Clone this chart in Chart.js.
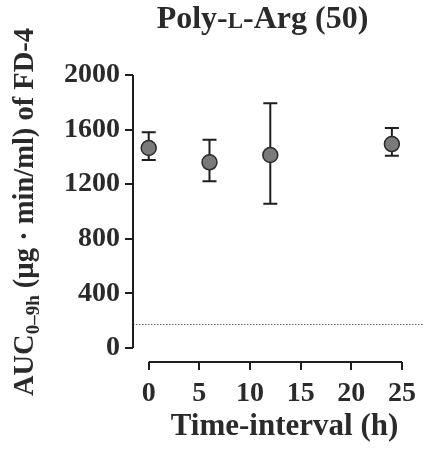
<!DOCTYPE html>
<html>
<head>
<meta charset="utf-8">
<script src="https://cdn.jsdelivr.net/npm/chart.js@4.4.1/dist/chart.umd.min.js"></script>
<style>
  body { margin: 0; background: #fff; }
  #caja { width: 423px; height: 455px; position: relative; }
</style>
</head>
<body>
<div id="caja"><canvas id="grafica"></canvas></div>
<script>
// datos
var horas = [0, 6, 12, 24];
var auc = [1465, 1360, 1414, 1494];
var errorArriba = [1580, 1526, 1793, 1611];
var errorAbajo = [1377, 1221, 1056, 1409];
var ticksX = [0, 5, 10, 15, 20, 25];
var ticksY = [0, 400, 800, 1200, 1600, 2000];
var lineaBase = 175;

var colorTexto = "#2a2a2a";
var fuente = "'Liberation Serif', 'Times New Roman', serif";

var puntos = horas.map(function(h, i) { return { x: h, y: auc[i] }; });

// barras de error + linea punteada
var plugErrores = {
    id: 'errores',
    beforeDatasetsDraw: function(chart) {
        var ctx = chart.ctx, sx = chart.scales.x, sy = chart.scales.y;
        ctx.save();
        // linea punteada
        var yb = Math.round(sy.getPixelForValue(lineaBase)) + 0.5;
        ctx.strokeStyle = "#666";
        ctx.lineWidth = 1;
        ctx.setLineDash([1.5, 1.5]);
        ctx.beginPath();
        ctx.moveTo(chart.chartArea.left, yb);
        ctx.lineTo(chart.width, yb);
        ctx.stroke();
        ctx.setLineDash([]);

        ctx.strokeStyle = "#1e1e1e";
        ctx.lineWidth = 2;
        for (var i = 0; i < horas.length; i++) {
            var px = sx.getPixelForValue(horas[i]);
            var top = sy.getPixelForValue(errorArriba[i]);
            var bot = sy.getPixelForValue(errorAbajo[i]);
            ctx.beginPath();
            ctx.moveTo(px, top); ctx.lineTo(px, bot);
            ctx.moveTo(px - 7, top); ctx.lineTo(px + 7, top);
            ctx.moveTo(px - 7, bot); ctx.lineTo(px + 7, bot);
            ctx.stroke();
        }
        ctx.restore();
    },
    afterDraw: function(chart) {
        var ctx = chart.ctx, sx = chart.scales.x, sy = chart.scales.y, ca = chart.chartArea;
        ctx.save();
        // ejes separados (estilo prism)
        ctx.strokeStyle = "#1e1e1e";
        ctx.lineWidth = 2;
        ctx.beginPath();
        ctx.moveTo(ca.left, sy.getPixelForValue(ticksY[0]));
        ctx.lineTo(ca.left, sy.getPixelForValue(ticksY[ticksY.length - 1]));
        ctx.moveTo(sx.getPixelForValue(ticksX[0]), ca.bottom);
        ctx.lineTo(sx.getPixelForValue(ticksX[ticksX.length - 1]), ca.bottom);
        ctx.stroke();

        ctx.fillStyle = colorTexto;
        ctx.textBaseline = "alphabetic";

        // titulo con versalita
        var f1 = "bold 32px " + fuente, f2 = "bold 23px " + fuente;
        var partes = [["Poly-", f1], ["L", f2], ["-Arg (50)", f1]];
        var ancho = 0;
        partes.forEach(function(p) { ctx.font = p[1]; ancho += ctx.measureText(p[0]).width; });
        var x0 = 262.5 - ancho / 2;
        partes.forEach(function(p) {
            ctx.font = p[1];
            ctx.fillText(p[0], x0, 28);
            x0 += ctx.measureText(p[0]).width;
        });

        // titulo eje x
        ctx.font = "bold 31px " + fuente;
        ctx.textAlign = "center";
        ctx.fillText("Time-interval (h)", 284.5, 435);
        ctx.textAlign = "left";

        // titulo eje y con subindice
        var tramos = [["AUC", "bold 28.5px " + fuente, 0], ["0\u20139h", "bold 19px " + fuente, 6], [" (\u00b5g \u00b7 min/ml) of FD-4", "bold 28.5px " + fuente, 0]];
        var total = 0;
        tramos.forEach(function(t) { ctx.font = t[1]; total += ctx.measureText(t[0]).width; });
        ctx.translate(33, 212);
        ctx.rotate(-Math.PI / 2);
        var pos = -total / 2;
        tramos.forEach(function(t) {
            ctx.font = t[1];
            ctx.fillText(t[0], pos, t[2]);
            pos += ctx.measureText(t[0]).width;
        });
        ctx.restore();
    }
};

var grafica = new Chart(document.getElementById("grafica"), {
    type: 'scatter',
    data: {
        datasets: [{
            data: puntos,
            pointRadius: 7.5,
            pointBackgroundColor: "#7a7a7a",
            pointBorderColor: "#2a2a2a",
            pointBorderWidth: 1.5,
            showLine: false
        }]
    },
    options: {
        responsive: true,
        maintainAspectRatio: false,
        animation: false,
        layout: { padding: { top: 75, right: 16, left: 0, bottom: 0 } },
        plugins: { legend: { display: false }, tooltip: { enabled: false }, title: { display: false } },
        scales: {
            x: {
                type: 'linear',
                min: -1.55,
                max: 25,
                afterFit: function(s) { s.height = 93; },
                afterBuildTicks: function(s) { s.ticks = ticksX.map(function(v) { return { value: v }; }); },
                border: { display: false },
                grid: { drawOnChartArea: false, drawTicks: true, tickLength: 8, color: "#1e1e1e", lineWidth: 2 },
                ticks: { color: colorTexto, padding: 7, maxRotation: 0, font: { family: fuente, size: 28, weight: 'bold' },
                         callback: function(v) { return String(v); } }
            },
            y: {
                min: -103,
                max: 2000,
                afterFit: function(s) { s.width = 133; },
                afterBuildTicks: function(s) { s.ticks = ticksY.map(function(v) { return { value: v }; }); },
                border: { display: false },
                grid: { drawOnChartArea: false, drawTicks: true, tickLength: 8, color: "#1e1e1e", lineWidth: 2 },
                ticks: { color: colorTexto, padding: 5, font: { family: fuente, size: 28, weight: 'bold' },
                         callback: function(v) { return String(v); } }
            }
        }
    },
    plugins: [plugErrores]
});
</script>
</body>
</html>
